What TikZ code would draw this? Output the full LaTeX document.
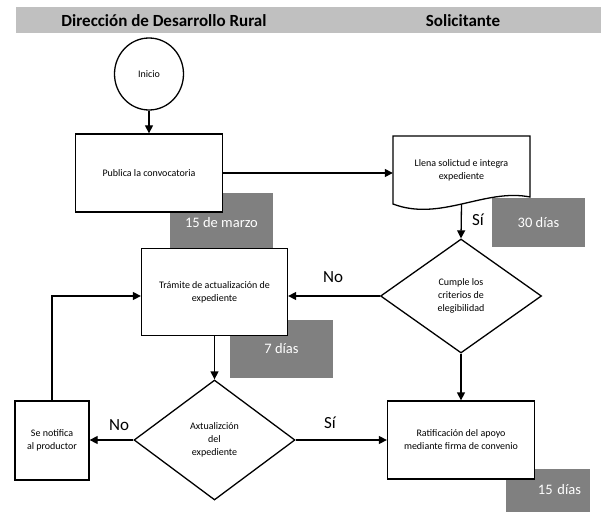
\documentclass[tikz,border=0pt]{standalone}
\usepackage{fontspec}
\setmainfont{Carlito}
\usetikzlibrary{arrows.meta,shapes.geometric}
\definecolor{encabezado}{HTML}{C0C0C0}
\definecolor{plazo}{HTML}{808080}

\begin{document}
\begin{tikzpicture}[x=1pt,y=-1pt,
    caja/.style={draw,line width=1.3pt,fill=white,align=center,inner sep=2pt,font=\fontsize{10}{13}\selectfont},
    rombo/.style={diamond,draw,line width=1.3pt,fill=white,align=center,inner sep=0pt,font=\fontsize{10}{13}\selectfont},
    tiempo/.style={fill=plazo,text=white,inner sep=0pt,font=\fontsize{14.5}{17}\selectfont},
    flecha/.style={line width=1.3pt,-{Triangle[length=8pt,width=8pt]}},
    etiqueta/.style={font=\fontsize{17}{20}\selectfont},
    titulo/.style={font=\bfseries\fontsize{17}{20}\selectfont}]
    \useasboundingbox (0,0) rectangle (601,513);

    \fill[encabezado] (16,7) rectangle (601,33);
    \node[titulo] (direccion) at (164,20.5) {Dirección de Desarrollo Rural};
    \node[titulo] (solicitante) at (463,20.5) {Solicitante};

    \node[tiempo,minimum width=103pt,minimum height=59pt] (marzo) at (221.5,222.5) {15 de marzo};
    \node[tiempo,minimum width=93pt,minimum height=49pt] (treinta) at (538.5,222.5) {30 días};
    \node[tiempo,minimum width=103pt,minimum height=58pt] (siete) at (281.5,349) {7 días};
    \node[tiempo,minimum width=84pt,minimum height=43pt,text width=66pt,align=right] (quince) at (548,490) {15 días};

    \node[ellipse,draw,line width=1.3pt,fill=white,minimum width=69pt,minimum height=72pt,
      font=\fontsize{10}{13}\selectfont] (inicio) at (149,74) {Inicio};
    \node[caja,minimum width=147pt,minimum height=78pt] (publica) at (149,173) {Publica la convocatoria};

    \filldraw[line width=1.3pt,fill=white] (393,204) -- (393,136) -- (530,136) -- (530,197)
      .. controls (485,188) and (440,222) .. (393,204) -- cycle;
    \node[minimum width=137pt,minimum height=68pt,align=center,font=\fontsize{10}{13}\selectfont]
      (llena) at (461.5,170) {Llena solictud e integra\\expediente};

    \node[rombo,minimum width=161pt,minimum height=114pt] (cumple) at (461,296) {Cumple los\\criterios de\\elegibilidad};
    \node[caja,minimum width=146pt,minimum height=87pt] (tramite) at (214.5,292) {Trámite de actualización de\\expediente};
    \node[rombo,minimum width=161pt,minimum height=120pt] (actualiza) at (214.5,440) {Axtualizción\\del\\expediente};
    \node[caja,minimum width=74pt,minimum height=79pt] (notifica) at (52,440.5) {Se notifica\\al productor};
    \node[caja,minimum width=147pt,minimum height=78pt] (ratifica) at (461,440) {Ratificación del apoyo\\mediante firma de convenio};

    \draw[flecha] (inicio) -- (publica);
    \draw[flecha] (publica.east) -- (publica.east -| llena.west);
    \draw[flecha] (llena.south) -- (cumple.north);
    \draw[flecha] (cumple.west) -- (cumple.west -| tramite.east);
    \draw[flecha] (cumple.south) -- (cumple.south |- ratifica.north);
    \draw[flecha] (tramite) -- (actualiza);
    \draw[flecha] (actualiza.west) -- (actualiza.west -| notifica.east);
    \draw[flecha] (actualiza.east) -- (actualiza.east -| ratifica.west);
    \draw[flecha] (notifica.north) |- (cumple.west -| tramite.west);

    \node[etiqueta] (si1) at (478,220) {Sí};
    \node[etiqueta] (no1) at (333,277) {No};
    \node[etiqueta] (no2) at (119,425) {No};
    \node[etiqueta] (si2) at (330,423) {Sí};
\end{tikzpicture}
\end{document}
